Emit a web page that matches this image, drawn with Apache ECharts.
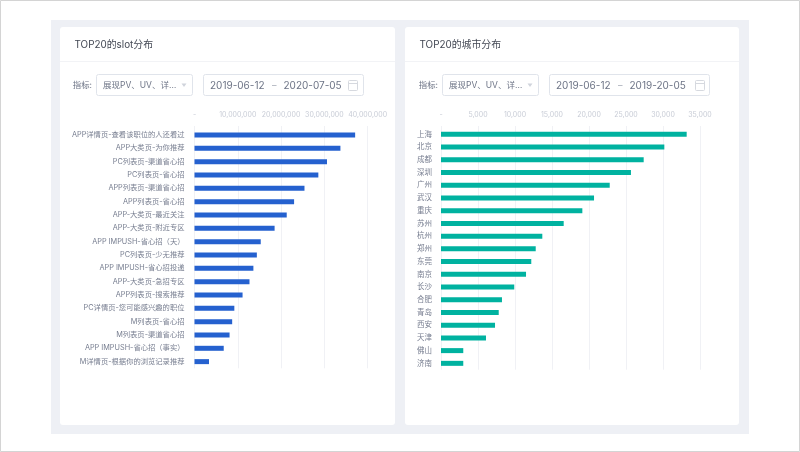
<!DOCTYPE html>
<html><head><meta charset="utf-8">
<style>html,body{margin:0;padding:0;background:#fff}#c{width:800px;height:452px}</style>
<script src="https://cdn.jsdelivr.net/npm/echarts@6/dist/echarts.min.js"></script>
</head><body><div id="c"></div>
<script>
const slotCategories = ['APP详情页-查看该职位的人还看过','APP大类页-为你推荐','PC列表页-渠道省心招','PC列表页-省心招','APP列表页-渠道省心招','APP列表页-省心招','APP-大类页-最近关注','APP-大类页-附近专区','APP IMPUSH-省心招（天）','PC列表页-少无推荐','APP IMPUSH-省心招投递','APP-大类页-急招专区','APP列表页-搜索推荐','PC详情页-您可能感兴趣的职位','M列表页-省心招','M列表页-渠道省心招','APP IMPUSH-省心招（事实）','M详情页-根据你的浏览记录推荐'];
const slotValues = [37100000,33700000,30600000,28600000,25400000,23000000,21300000,18500000,15300000,14400000,13600000,12700000,11100000,9200000,8700000,8100000,6750000,3350000];
const cityCategories = ['上海','北京','成都','深圳','广州','武汉','重庆','苏州','杭州','郑州','东莞','南京','长沙','合肥','青岛','西安','天津','佛山','济南'];
const cityValues = [33200,30180,27390,25670,22800,20680,19100,16580,13690,12800,12200,11490,9900,8240,7800,7300,6080,3010,3010];
const FONT = 'Inter, "Noto Sans CJK SC", sans-serif';
const fmt = v => v === 0 ? '-' : v.toLocaleString('en-US');
function rect(x,y,w,h,fill,stroke,r){return {type:'rect',silent:true,shape:{x,y,width:w,height:h,r:r||0},style:{fill,stroke:stroke||null,lineWidth:stroke?1:0}};}
function text(x,y,t,size,color,align){return {type:'text',silent:true,x,y,style:{text:t,font:size+'px '+FONT,fill:color,align:align||'left',verticalAlign:'middle'}};}
function chrome(x,right,t,sel,date1,date2,selX,dateX,iconX){
  return [
    rect(x,27,right-x,398,'#fff',null,3),
    {type:'line',silent:true,shape:{x1:x,y1:61.5,x2:right,y2:61.5},style:{stroke:'#f2f3f6',lineWidth:1}},
    text(x+14.5,45,t,9.9,'#434854'),
    text(selX-4,85.5,'指标:',8.4,'#6d7486','right'),
    rect(selX+.5,74.5,96,21,'#fff','#e0e4eb',2),
    text(selX+7,85.5,sel,8.5,'#6d7486'),
    {type:'polygon',silent:true,shape:{points:[[selX+85.5,83.5],[selX+90.5,83.5],[selX+88,87]]},style:{fill:'#d0d4dc'}},
    rect(dateX+.5,74.5,160,21,'#fff','#e0e4eb',2),
    text(dateX+7,85.5,date1,10,'#6d7486'),
    text(dateX+69,85.5,'–',9,'#a4a9b5'),
    text(dateX+80.5,85.5,date2,10,'#6d7486'),
    rect(iconX+.5,80.5,9,10,'#fff','#d6d9df',1),
    {type:'line',silent:true,shape:{x1:iconX+1,y1:83.5,x2:iconX+9,y2:83.5},style:{stroke:'#d6d9df',lineWidth:1}}
  ];
}
const axisLabel = {color:'#c8ccd6',fontSize:7,fontFamily:FONT,formatter:fmt,margin:8,hideOverlap:false};
const split = {show:true,lineStyle:{color:'#f0f1f5',width:1}};
function grid(l,r,t,b){return {left:l,width:r-l,top:t,height:b-t,containLabel:false};}
function xAxis(i,max,interval,label){return {type:'value',gridIndex:i,position:'top',min:0,max,interval,axisLine:{show:false},axisTick:{show:false},splitLine:split,axisLabel:label?axisLabel:{show:false}};}
const option = {
  animation:false,backgroundColor:'#fff',
  graphic:[
    rect(.5,.5,799,451,'#fff','#d4d4d4'),
    rect(51,20,698,414,'#eef0f5'),
    ...chrome(60,395,'TOP20的slot分布','展现PV、UV、详…','2019-06-12','2020-07-05',96,203,348),
    ...chrome(405,739,'TOP20的城市分布','展现PV、UV、详…','2019-06-12','2019-20-05',442,549,695)
  ],
  grid:[grid(194.5,367.7,126,368.3),grid(194.5,367.7,128.3,368.3),grid(441,700,126,369.7),grid(441,700,128,369.7)],
  xAxis:[xAxis(0,40000000,10000000,true),{...xAxis(1,40000000,10000000,false),splitLine:{show:false}},xAxis(2,35000,5000,true),{...xAxis(3,35000,5000,false),splitLine:{show:false}}],
  yAxis:[
    {type:'value',gridIndex:0,min:0,max:1,show:false},
    {type:'category',gridIndex:1,inverse:true,data:slotCategories,axisLine:{show:false},axisTick:{show:false},axisLabel:{color:'#777e90',fontSize:7.3,fontFamily:FONT,margin:10,interval:0}},
    {type:'value',gridIndex:2,min:0,max:1,show:false},
    {type:'category',gridIndex:3,inverse:true,data:cityCategories,axisLine:{show:false},axisTick:{show:false},axisLabel:{color:'#777e90',fontSize:7.5,fontFamily:FONT,margin:9,interval:0}}
  ],
  series:[
    {type:'bar',xAxisIndex:1,yAxisIndex:1,data:slotValues,barWidth:5,itemStyle:{color:'#2561cf'},z:3},
    {type:'bar',xAxisIndex:3,yAxisIndex:3,data:cityValues,barWidth:5,itemStyle:{color:'#00b2a0'},z:3}
  ]
};
echarts.init(document.getElementById('c'),null,{renderer:'canvas'}).setOption(option);
</script></body></html>
